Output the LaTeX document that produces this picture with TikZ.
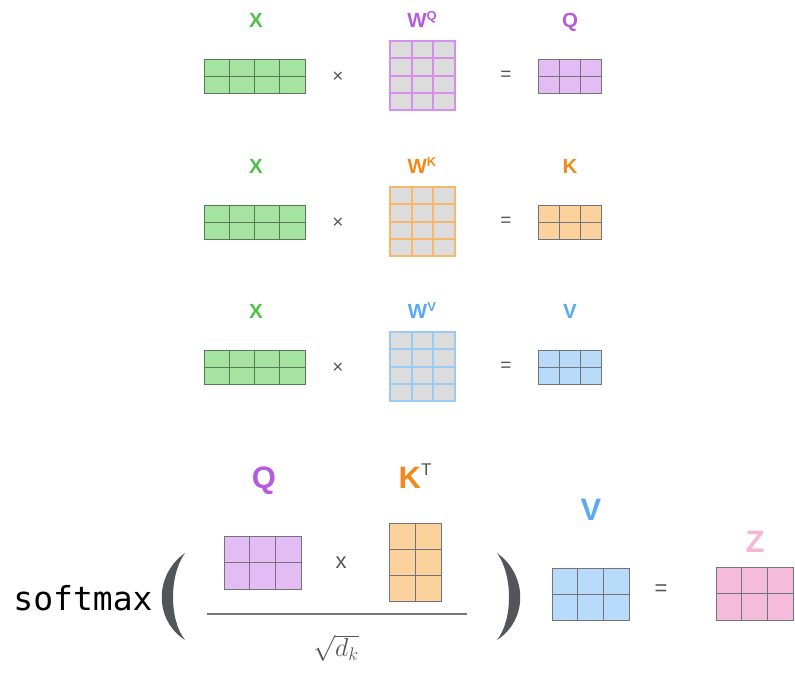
\RequirePackage{fix-cm}
\documentclass[tikz,border=0pt]{standalone}
\usepackage{fontspec}
\setmainfont{Liberation Sans}
\setmonofont{DejaVu Sans Mono}
\usepackage{tikz}
\usetikzlibrary{positioning}

\definecolor{xgreen}{HTML}{4DC247}
\definecolor{xfill}{HTML}{A6E2A0}
\definecolor{xline}{HTML}{557A55}
\definecolor{qpurple}{HTML}{B65AE0}
\definecolor{qwline}{HTML}{D68FEA}
\definecolor{qfill}{HTML}{E2BCF3}
\definecolor{korange}{HTML}{F28A1B}
\definecolor{kwline}{HTML}{F8B76A}
\definecolor{kfill}{HTML}{FCD29C}
\definecolor{vblue}{HTML}{5AAAF2}
\definecolor{vwline}{HTML}{9ACBF7}
\definecolor{vfill}{HTML}{B9DBFA}
\definecolor{zpink}{HTML}{F5B5D6}
\definecolor{zfill}{HTML}{F4BCDA}
\definecolor{wfill}{HTML}{DCDCDC}
\definecolor{cellline}{HTML}{75737A}
\definecolor{opgray}{HTML}{555555}
\definecolor{parengray}{HTML}{52565B}

% matrix: style, x0, y0, cols, rows, cell w, cell h
\newcommand{\drawmat}[7]{%
  \draw[#1] (#2,#3) rectangle ({#2+#4*#6},{#3+#5*#7});
  \foreach \i in {1,...,#4} {
    \draw[#1, fill=none] ({#2+\i*#6},#3) -- ++(0,{#5*#7});
  }
  \foreach \j in {1,...,#5} {
    \draw[#1, fill=none] (#2,{#3+\j*#7}) -- ++({#4*#6},0);
  }
}

\begin{document}
\begin{tikzpicture}[x=1pt, y=-1pt,
    lab/.style={font=\fontsize{20.5}{22}\selectfont\bfseries, anchor=base},
    biglab/.style={font=\fontsize{31}{34}\selectfont\bfseries, anchor=base},
    op/.style={text=opgray, font=\fontsize{19}{21}\selectfont},
    wmat/.style={draw=#1, line width=2pt, fill=wfill},
    outmat/.style={draw=cellline, line width=0.9pt, fill=#1}]
    \path[use as bounding box] (0,0) rectangle (795,675);

    % 1. Ba phép nhân X W = Q, K, V
    \foreach \dy/\nm/\lb/\col/\wcol/\fcol in {0/q/Q/qpurple/qwline/qfill,
        146/k/K/korange/kwline/kfill, 291/v/V/vblue/vwline/vfill} {
        \node[lab, text=xgreen] (x\nm) at (256,{27+\dy}) {X};
        \node[lab, text=\col] (w\nm) at (422,{27+\dy})
            {W\raisebox{0.32em}{\fontsize{13}{13}\selectfont\lb}};
        \node[lab, text=\col] (out\nm) at (570,{27+\dy}) {\lb};
        \node[op] (times\nm) at (338,{77+\dy}) {×};
        \node[op] (eq\nm) at (506,{76+\dy}) {=};
        \drawmat{draw=xline, line width=0.9pt, fill=xfill}{204}{59+\dy}{4}{2}{25.25}{17}
        \drawmat{wmat=\wcol}{390}{41+\dy}{3}{4}{21.7}{17.25}
        \drawmat{outmat=\fcol}{538}{59+\dy}{3}{2}{21.3}{17}
    }

    % 2. softmax(Q K^T / sqrt(d_k)) V = Z
    \node[font=\ttfamily\fontsize{33}{36}\selectfont, anchor=base] (smax) at (83,610) {softmax};
    \fill[parengray] (185,553) .. controls (154,575) and (154,620) .. (185,640)
        .. controls (169,620) and (169,575) .. (185,553);
    \fill[parengray] (497,553) .. controls (528,575) and (528,620) .. (497,640)
        .. controls (513,620) and (513,575) .. (497,553);

    \node[biglab, text=qpurple] (qlab) at (264,488) {Q};
    \node[biglab, text=korange] (klab) at (415,488)
        {K\raisebox{0.4em}{\fontsize{17}{17}\selectfont\mdseries\color{opgray}T}};
    \drawmat{outmat=qfill}{224}{536}{3}{2}{25.7}{26.7}
    \node[op, font=\fontsize{22}{24}\selectfont] (times4) at (341,563) {x};
    \drawmat{outmat=kfill}{389}{523}{2}{3}{26}{26.3}
    \draw[opgray!80, line width=1.8pt] (207,614) -- (467,614);
    \node[text=opgray, font=\fontsize{26}{30}\selectfont] (sqrtdk) at (336,648) {$\sqrt{d_k}$};

    \node[biglab, text=vblue] (vlab) at (591,520) {V};
    \drawmat{outmat=vfill}{552}{568}{3}{2}{25.7}{26}
    \node[op, font=\fontsize{22}{24}\selectfont] (eq4) at (661,590) {=};
    \node[biglab, text=zpink] (zlab) at (755,552) {Z};
    \drawmat{outmat=zfill}{716}{567}{3}{2}{25.7}{26.5}
\end{tikzpicture}
\end{document}
